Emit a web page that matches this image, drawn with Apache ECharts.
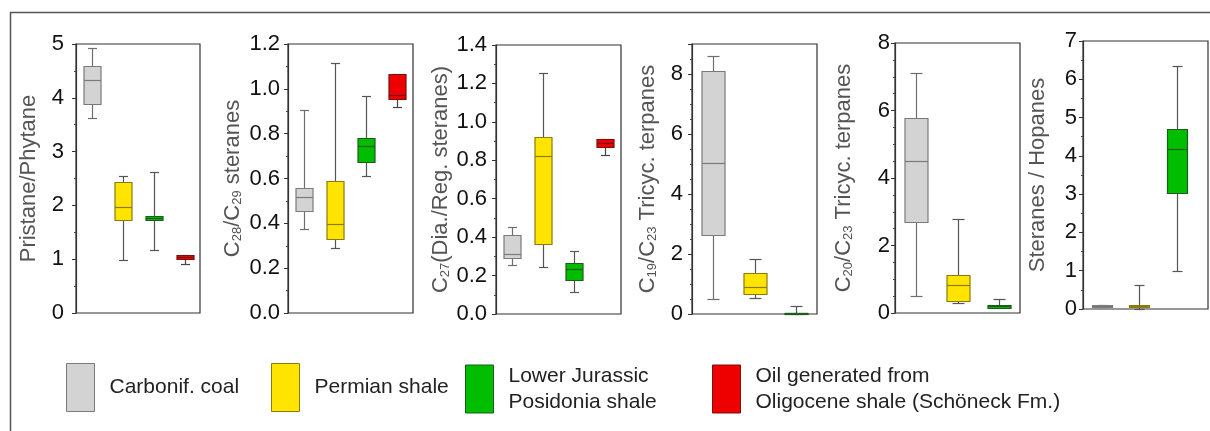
<!DOCTYPE html>
<html><head><meta charset="utf-8">
<script src="https://cdn.jsdelivr.net/npm/echarts@6/dist/echarts.min.js"></script>
<style>html,body{margin:0;padding:0;background:#fff}#c{width:1210px;height:431px}</style>
</head><body><div id="c"></div>
<script>
// ---------- DATA ----------
const groups = ['Carbonif. coal', 'Permian shale', 'Lower Jurassic Posidonia shale', 'Oil generated from Oligocene shale (Schöneck Fm.)'];
// each box: [min, q1, median, q3, max]; one box per group (null = not present)
const pristanePhytane = [[3.63, 3.88, 4.33, 4.59, 4.92], [0.98, 1.72, 1.97, 2.44, 2.54], [1.17, 1.72, 1.76, 1.81, 2.63], [0.91, 1.00, 1.04, 1.08, 1.08]];
const c28c29Steranes = [[0.374, 0.456, 0.517, 0.557, 0.906], [0.29, 0.331, 0.397, 0.591, 1.117], [0.612, 0.672, 0.746, 0.78, 0.969], [0.917, 0.955, 0.973, 1.067, 1.067]];
const c27DiaReg = [[0.255, 0.29, 0.312, 0.411, 0.451], [0.246, 0.363, 0.822, 0.923, 1.256], [0.113, 0.177, 0.232, 0.264, 0.33], [0.828, 0.871, 0.892, 0.909, 0.909]];
const c19c23Tricyclic = [[0.5, 2.63, 5.02, 8.09, 8.61], [0.52, 0.67, 0.91, 1.36, 1.82], [0.0, 0.0, 0.02, 0.04, 0.26]];
const c20c23Tricyclic = [[0.51, 2.70, 4.49, 5.78, 7.11], [0.30, 0.35, 0.83, 1.14, 2.80], [0.16, 0.16, 0.20, 0.24, 0.41]];
const steranesHopanes = [[0.05, 0.06, 0.08, 0.11, 0.11], [0.0, 0.04, 0.07, 0.11, 0.62], [1.0, 3.02, 4.19, 4.70, 6.35]];
// y axes: [max, tick interval, decimals]
const yAxisScales = [[5, 1, 0], [1.2, 0.2, 1], [1.4, 0.2, 1], [9, 2, 0], [8, 2, 0], [7, 1, 0]];
const axisTitles = ['Pristane/Phytane', 'C{s|28}/C{s|29} steranes', 'C{s|27}(Dia./Reg. steranes)', 'C{s|19}/C{s|23} Tricyc. terpanes', 'C{s|20}/C{s|23} Tricyc. terpanes', 'Steranes / Hopanes'];
const panelData = [pristanePhytane, c28c29Steranes, c27DiaReg, c19c23Tricyclic, c20c23Tricyclic, steranesHopanes];

// ---------- STYLE / LAYOUT ----------
const FONT = '"Liberation Sans", Arial, sans-serif';
const groupStyle = [
  {fill: '#d3d3d3', stroke: '#7a7a7a', whisker: '#6e6e6e'},
  {fill: '#ffe400', stroke: '#8a7a10', whisker: '#555555'},
  {fill: '#00bd00', stroke: '#1c5c1c', whisker: '#555555'},
  {fill: '#ee0000', stroke: '#7a1010', whisker: '#444444'}
];
const layout = [
  {left: 76, width: 124, top: 44, bottom: 313, xMax: 3.5, gap: 36, margin: 12, minorSplit: 2},
  {left: 288, width: 125, top: 44, bottom: 313, xMax: 3.5, gap: 44, margin: 8, minorSplit: 2},
  {left: 496, width: 125, top: 45, bottom: 314, xMax: 3.5, gap: 44, margin: 9, minorSplit: 2},
  {left: 692, width: 125, top: 44, bottom: 314, xMax: 2.5, gap: 33, margin: 9, minorSplit: 4},
  {left: 895, width: 125, top: 43, bottom: 313, xMax: 2.5, gap: 40, margin: 5, minorSplit: 4},
  {left: 1083, width: 125, top: 41, bottom: 309, xMax: 2.83, gap: 34, margin: 6, minorSplit: 2}
];

function makeRender(gs) {
  return function (params, api) {
    const x = api.value(0);
    const v = [1, 2, 3, 4, 5].map(i => api.value(i));
    const band = api.size([1, 0])[0];
    const bw = Math.round(band * 0.54);
    const cw = Math.round(bw * 0.5);
    const p = v.map(val => api.coord([x, val]));
    const cx = Math.round(p[0][0]) + 0.5;
    const y = p.map(q => Math.round(q[1]) + 0.5);
    const wl = {stroke: gs.whisker, lineWidth: 1.2};
    const children = [
      {type: 'line', shape: {x1: cx, y1: y[3], x2: cx, y2: y[4]}, style: wl},
      {type: 'line', shape: {x1: cx - cw / 2, y1: y[4], x2: cx + cw / 2, y2: y[4]}, style: wl},
      {type: 'line', shape: {x1: cx, y1: y[1], x2: cx, y2: y[0]}, style: wl},
      {type: 'line', shape: {x1: cx - cw / 2, y1: y[0], x2: cx + cw / 2, y2: y[0]}, style: wl},
      {type: 'rect', shape: {x: cx - bw / 2, y: y[3], width: bw, height: Math.max(y[1] - y[3], 1)},
        style: {fill: gs.fill, stroke: gs.stroke, lineWidth: 1.2}},
      {type: 'line', shape: {x1: cx - bw / 2, y1: y[2], x2: cx + bw / 2, y2: y[2]}, style: {stroke: gs.stroke, lineWidth: 1.2}}
    ];
    return {type: 'group', children};
  };
}

const grid = [], xAxis = [], yAxis = [], series = [];
panelData.forEach((boxes, pi) => {
  const L = layout[pi];
  const [yMax, yInt, dec] = yAxisScales[pi];
  grid.push({left: L.left, top: L.top, width: L.width, height: L.bottom - L.top, show: true,
    borderColor: '#333', borderWidth: 1.2, backgroundColor: 'transparent'});
  xAxis.push({gridIndex: pi, type: 'value', min: -0.5, max: L.xMax, show: false});
  yAxis.push({
    gridIndex: pi, type: 'value', position: 'left', min: 0, max: yMax, interval: yInt,
    name: axisTitles[pi], nameLocation: 'middle', nameGap: L.gap, nameRotate: 90,
    nameTextStyle: {fontSize: 22, color: '#555', fontFamily: FONT,
      rich: {s: {fontSize: 13, color: '#555', fontFamily: FONT, verticalAlign: 'bottom', padding: [6, 0, 0, 0]}}},
    axisLine: {show: true, onZero: false, lineStyle: {color: '#333', width: 1.2}},
    axisTick: {show: true, inside: false, length: 4, lineStyle: {color: '#333'}},
    minorTick: {show: true, splitNumber: L.minorSplit, length: 2, lineStyle: {color: '#444'}},
    splitLine: {show: false},
    axisLabel: {fontSize: 22, color: '#111', fontFamily: FONT, margin: L.margin,
      showMaxLabel: Math.abs(yMax / yInt - Math.round(yMax / yInt)) < 1e-9,
      formatter: val => Number(val).toFixed(dec)}
  });
  boxes.forEach((b, gi) => {
    if (!b) return;
    series.push({
      type: 'custom', name: groups[gi], xAxisIndex: pi, yAxisIndex: pi,
      itemStyle: {color: groupStyle[gi].fill},
      encode: {x: 0, y: [1, 2, 3, 4, 5]},
      renderItem: makeRender(groupStyle[gi]),
      data: [[gi].concat(b)], silent: true, animation: false
    });
  });
});

const legendLeft = [66, 271, 465, 712];
const legendLabels = ['Carbonif. coal', 'Permian shale', 'Lower Jurassic\nPosidonia shale', 'Oil generated from\nOligocene shale (Schöneck Fm.)'];
const legend = groups.map((g, gi) => ({
  left: legendLeft[gi], top: 363, padding: 0, itemWidth: 28, itemHeight: 48, icon: 'rect',
  selectedMode: false,
  data: [{name: g, itemStyle: {color: groupStyle[gi].fill, borderColor: groupStyle[gi].stroke, borderWidth: 1}}],
  formatter: () => legendLabels[gi],
  textStyle: {fontSize: 21, color: '#222', fontFamily: FONT, lineHeight: 26, padding: [0, 0, 0, 10]}
}));

const chart = echarts.init(document.getElementById('c'), null, {renderer: 'canvas'});
chart.setOption({
  animation: false,
  backgroundColor: '#fff',
  graphic: [{type: 'rect', shape: {x: 10.5, y: 12.5, width: 1230, height: 440},
    style: {fill: 'none', stroke: '#555', lineWidth: 1.5}, silent: true}],
  grid, xAxis, yAxis, series, legend
});
</script></body></html>
